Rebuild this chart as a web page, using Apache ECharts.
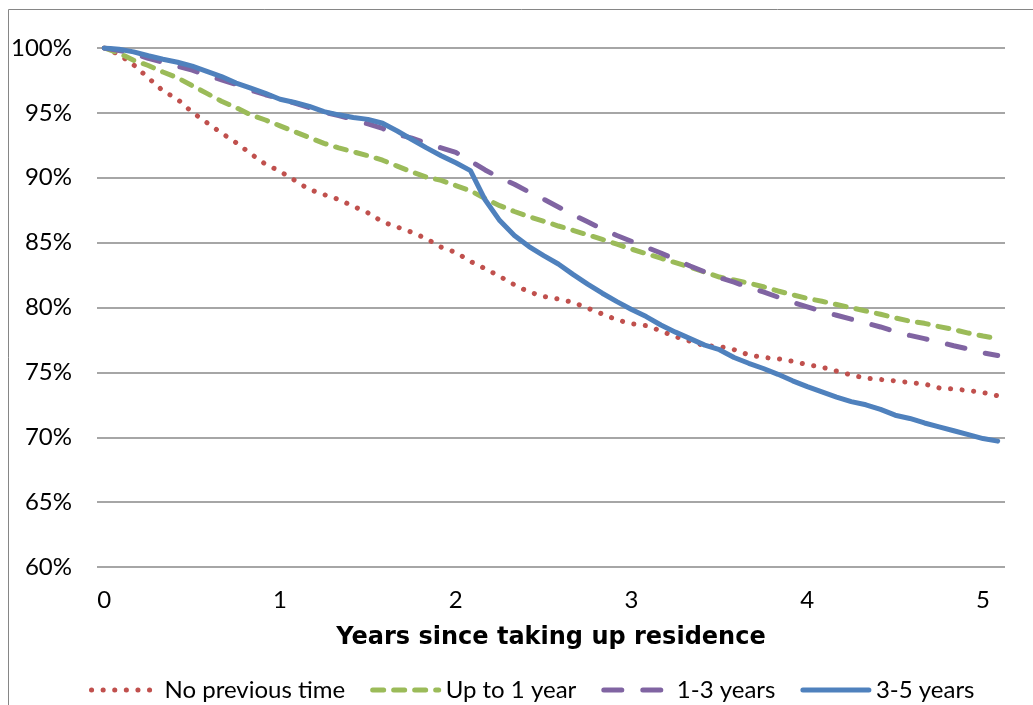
<!DOCTYPE html>
<html>
<head>
<meta charset="utf-8">
<script src="https://cdn.jsdelivr.net/npm/echarts@6/dist/echarts.min.js"></script>
<style>html,body{margin:0;padding:0;background:#fff}#c{width:1033px;height:705px}</style>
</head>
<body>
<div id="c"></div>
<script>
// months since taking up residence (category axis); labels shown in years
const months = [0,1,2,3,4,5,6,7,8,9,10,11,12,13,14,15,16,17,18,19,20,21,22,23,24,25,26,27,28,29,30,31,32,33,34,35,36,37,38,39,40,41,42,43,44,45,46,47,48,49,50,51,52,53,54,55,56,57,58,59,60,61];
const yTicks = [60,65,70,75,80,85,90,95,100];

const noPrevious = [100,99.5,98.7,97.7,96.7,96.05,95.05,94.25,93.45,92.7,91.85,91.05,90.5,89.8,89.1,88.7,88.33,87.8,87.3,86.6,86.2,85.8,85.3,84.65,84.25,83.55,83.0,82.4,81.75,81.2,80.85,80.65,80.4,79.95,79.5,79.05,78.75,78.6,78.2,77.75,77.4,77.05,77.0,76.75,76.35,76.15,76.05,75.85,75.6,75.4,75.1,74.8,74.55,74.45,74.35,74.22,74.1,73.8,73.72,73.6,73.45,73.2];
const upTo1 = [100,99.6,99.05,98.65,98.15,97.7,97.1,96.5,95.9,95.4,94.85,94.45,94.0,93.55,93.1,92.65,92.3,92.0,91.7,91.35,90.9,90.45,90.05,89.8,89.4,89.0,88.4,87.85,87.4,87.0,86.65,86.28,85.95,85.6,85.25,84.88,84.5,84.15,83.8,83.45,83.1,82.72,82.35,82.12,81.88,81.6,81.27,80.98,80.7,80.48,80.23,79.98,79.73,79.48,79.2,78.95,78.78,78.53,78.3,78.03,77.8,77.6];
const years1to3 = [100,99.8,99.6,99.2,98.9,98.6,98.3,97.9,97.55,97.2,96.75,96.4,96.1,95.75,95.4,95.05,94.8,94.5,94.15,93.8,93.35,93.05,92.65,92.3,91.95,91.3,90.6,90.0,89.5,88.9,88.35,87.75,87.15,86.6,86.05,85.55,85.1,84.65,84.2,83.7,83.2,82.75,82.3,81.95,81.55,81.2,80.8,80.4,80.05,79.7,79.4,79.1,78.8,78.5,78.15,77.85,77.6,77.35,77.05,76.8,76.5,76.3];
const years3to5 = [100,99.9,99.7,99.4,99.13,98.9,98.6,98.2,97.8,97.3,96.9,96.5,96.05,95.8,95.5,95.1,94.85,94.65,94.5,94.2,93.6,92.95,92.3,91.7,91.15,90.55,88.3,86.7,85.55,84.7,84.0,83.35,82.55,81.8,81.1,80.45,79.85,79.3,78.65,78.1,77.6,77.1,76.75,76.15,75.7,75.3,74.85,74.35,73.9,73.5,73.1,72.75,72.5,72.15,71.7,71.45,71.1,70.8,70.5,70.2,69.9,69.7];

const seriesNames = ['No previous time','Up to 1 year','1-3 years','3-5 years'];
const FONT = 'Lato, "Open Sans", sans-serif';
const TITLE_FONT = '"DejaVu Sans", Verdana, sans-serif';
const LW = 5;

const chart = echarts.init(document.getElementById('c'));
function line(name, data, color, dash) {
  return {
    name: name, type: 'line', data: data, symbol: 'none', showSymbol: false,
    animation: false,
    lineStyle: { color: color, width: LW, type: dash, cap: 'round', join: 'round' },
    itemStyle: { color: color }
  };
}
chart.setOption({
  animation: false,
  graphic: [{
    type: 'rect', shape: { x: 8.5, y: 9.5, width: 1100, height: 800 },
    style: { fill: 'none', stroke: '#868686', lineWidth: 1 }, silent: true, z: -1
  }],
  grid: { left: 97, right: 28, top: 48, bottom: 138, containLabel: false },
  legend: {
    left: 84, top: 673, itemWidth: 66, itemHeight: 14, itemGap: 25,
    data: seriesNames,
    itemStyle: { opacity: 0 },
    lineStyle: { width: LW, cap: 'round' },
    textStyle: { fontFamily: FONT, fontSize: 24, color: '#000', padding: [0, 0, 0, 2] }
  },
  xAxis: {
    type: 'category', data: months, boundaryGap: true,
    name: 'Years since taking up residence', nameLocation: 'middle', nameGap: 59,
    nameTextStyle: { fontFamily: TITLE_FONT, fontSize: 24, fontWeight: 'bold', color: '#000' },
    axisLine: { show: false }, axisTick: { show: false },
    axisLabel: {
      interval: function (i) { return months[i] % 12 === 0; },
      formatter: function (v) { return String(Number(v) / 12); },
      fontFamily: FONT, fontSize: 24, color: '#000', margin: 21
    },
    splitLine: { show: false }
  },
  yAxis: {
    type: 'value', min: yTicks[0], max: yTicks[yTicks.length - 1], interval: 5,
    axisLine: { show: false }, axisTick: { show: false },
    axisLabel: { formatter: '{value}%', fontFamily: FONT, fontSize: 24, color: '#000', margin: 25 },
    splitLine: { lineStyle: { color: '#888', width: 1.5 } }
  },
  series: [
    line(seriesNames[0], noPrevious, '#C0504D', [0.1, 11.5]),
    line(seriesNames[1], upTo1, '#9BBB59', [11, 10]),
    line(seriesNames[2], years1to3, '#8064A2', [18, 21]),
    line(seriesNames[3], years3to5, '#4F81BD', 'solid')
  ]
});
</script>
</body>
</html>
